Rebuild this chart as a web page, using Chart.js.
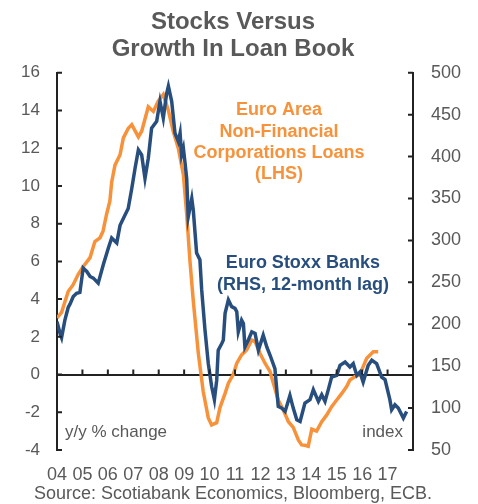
<!DOCTYPE html>
<html>
<head>
<meta charset="utf-8">
<script src="https://cdn.jsdelivr.net/npm/chart.js@4.4.1/dist/chart.umd.min.js"></script>
<style>
  html, body { margin: 0; padding: 0; background: #fff; }
  #wrap { width: 478px; height: 504px; position: relative; }
</style>
</head>
<body>
<div id="wrap"><canvas id="chart"></canvas></div>
<script>
/* ── Data ────────────────────────────────────────────────────── */
// Euro area NFC loans, y/y % (LHS)
const LOAN_DATES = [
  2004.00, 2004.18, 2004.44, 2004.63, 2004.83, 2005.02, 2005.30, 2005.49, 2005.69, 2005.81,
  2005.95, 2006.08, 2006.15, 2006.28, 2006.48, 2006.61, 2006.80, 2006.94, 2007.20, 2007.33,
  2007.59, 2007.79, 2007.98, 2008.18, 2008.38, 2008.57, 2008.77, 2008.97, 2009.10, 2009.23,
  2009.36, 2009.56, 2009.75, 2009.95, 2010.08, 2010.28, 2010.41, 2010.61, 2010.74, 2010.93,
  2011.07, 2011.26, 2011.46, 2011.66, 2011.79, 2011.98, 2012.18, 2012.38, 2012.51, 2012.70,
  2012.90, 2013.10, 2013.29, 2013.49, 2013.62, 2013.75, 2013.88, 2014.02, 2014.21, 2014.41,
  2014.61, 2014.80, 2015.00, 2015.20, 2015.39, 2015.52, 2015.72, 2015.91, 2016.04, 2016.18,
  2016.31, 2016.44, 2016.63
];
const LOAN_GROWTH = [
  3.0, 3.3, 4.4, 4.75, 5.3, 5.7, 6.2, 7.05, 7.25, 7.6,
  8.5, 9.2, 10.2, 11.1, 11.65, 12.55, 13.05, 13.25, 12.6, 12.9,
  14.2, 13.95, 14.5, 14.85, 14.0, 12.9, 12.0, 10.6, 8.5, 6.0,
  3.9, 1.1, -0.9, -2.3, -2.67, -2.55, -1.75, -1.0, -0.46, 0.0,
  0.6, 1.04, 1.3, 1.83, 1.75, 1.13, 0.6, 0.15, -0.46, -1.35,
  -1.88, -2.5, -2.8, -3.47, -3.73, -3.75, -3.8, -2.9, -3.0, -2.5,
  -2.14, -1.7, -1.35, -1.0, -0.64, -0.29, -0.11, 0.0, 0.42, 0.86,
  1.04, 1.21, 1.21
];

// Euro Stoxx Banks index, 12-month lag (RHS)
const BANK_DATES = [
  2004.00, 2004.12, 2004.18, 2004.31, 2004.44, 2004.51, 2004.64, 2004.77, 2004.90, 2005.03,
  2005.17, 2005.30, 2005.43, 2005.62, 2005.82, 2006.02, 2006.15, 2006.35, 2006.48, 2006.67,
  2006.80, 2006.94, 2007.07, 2007.20, 2007.33, 2007.46, 2007.59, 2007.72, 2007.92, 2008.05,
  2008.18, 2008.31, 2008.38, 2008.51, 2008.64, 2008.77, 2008.84, 2008.90, 2008.97, 2009.03,
  2009.10, 2009.16, 2009.30, 2009.36, 2009.49, 2009.62, 2009.69, 2009.82, 2009.95, 2010.08,
  2010.19, 2010.28, 2010.34, 2010.48, 2010.54, 2010.61, 2010.74, 2010.87, 2011.00, 2011.07,
  2011.13, 2011.26, 2011.33, 2011.39, 2011.52, 2011.66, 2011.79, 2011.92, 2012.11, 2012.25,
  2012.38, 2012.57, 2012.70, 2012.84, 2012.97, 2013.16, 2013.29, 2013.43, 2013.56, 2013.75,
  2013.95, 2014.08, 2014.28, 2014.41, 2014.54, 2014.67, 2014.80, 2015.00, 2015.13, 2015.33,
  2015.52, 2015.65, 2015.79, 2015.91, 2016.04, 2016.24, 2016.38, 2016.57, 2016.77, 2016.90,
  2017.09, 2017.16, 2017.29, 2017.42, 2017.62, 2017.75
];
const BANK_INDEX = [
  203, 189, 184, 205, 220, 224, 233, 237, 238, 267,
  263, 257, 255, 249, 271, 291, 303, 297, 318, 330,
  338, 362, 386, 408, 402, 374, 398, 434, 442, 466,
  446, 475, 484, 466, 428, 418, 428, 402, 410, 394,
  374, 328, 350, 336, 285, 277, 241, 193, 153, 126,
  110, 133, 169, 177, 181, 213, 229, 221, 219, 215,
  191, 205, 201, 173, 181, 191, 189, 169, 187, 173,
  163, 147, 102, 100, 96, 115, 100, 86, 84, 106,
  110, 122, 108, 116, 108, 122, 137, 139, 151, 155,
  149, 153, 139, 143, 131, 151, 157, 153, 137, 134,
  110, 98, 104, 100, 88, 96
];

const YEAR_LABELS = ["04", "05", "06", "07", "08", "09", "10", "11", "12", "13", "14", "15", "16", "17"];
const FIRST_YEAR = 2004;

/* ── Styling ──────────────────────────────────────────────────── */
const ORANGE = "#f7923a";
const NAVY = "#284e7e";
const GREY = "#595959";
const AXIS = "#222222";
const FONT = "'Liberation Sans', Arial, sans-serif";

const toPoints = (xs, ys) => xs.map((x, i) => ({ x, y: ys[i] }));

/* inward tick marks on both value axes + year ticks on the zero line */
const innerTicks = {
  id: "innerTicks",
  afterDraw(chart) {
    const { ctx, chartArea, scales } = chart;
    const zeroY = scales.y.getPixelForValue(0);
    ctx.save();
    ctx.strokeStyle = AXIS;
    ctx.lineWidth = 2;
    ctx.beginPath();
    scales.y.ticks.forEach(t => {
      const py = scales.y.getPixelForValue(t.value);
      ctx.moveTo(chartArea.left, py);
      ctx.lineTo(chartArea.left + 5, py);
    });
    scales.y1.ticks.forEach(t => {
      const py = scales.y1.getPixelForValue(t.value);
      ctx.moveTo(chartArea.right, py);
      ctx.lineTo(chartArea.right - 5, py);
    });
    scales.x.ticks.forEach(t => {
      const px = scales.x.getPixelForValue(t.value);
      ctx.moveTo(px, zeroY);
      ctx.lineTo(px, zeroY - 5);
    });
    ctx.stroke();
    ctx.restore();
  }
};

/* series labels and axis unit notes */
const notes = {
  id: "notes",
  afterDatasetsDraw(chart) {
    const { ctx, chartArea, scales } = chart;
    ctx.save();
    ctx.textAlign = "center";
    ctx.textBaseline = "middle";
    ctx.font = `bold 18px ${FONT}`;

    ctx.fillStyle = ORANGE;
    const ox = scales.x.getPixelForValue(2012.73);
    ["Euro Area", "Non-Financial", "Corporations Loans", "(LHS)"].forEach((s, i) => {
      ctx.fillText(s, ox, scales.y.getPixelForValue(14.0) + i * 21.3);
    });

    ctx.fillStyle = NAVY;
    const bx = scales.x.getPixelForValue(2013.67);
    ["Euro Stoxx Banks", "(RHS, 12-month lag)"].forEach((s, i) => {
      ctx.fillText(s, bx, scales.y.getPixelForValue(5.9) + i * 21.6);
    });

    ctx.font = `17px ${FONT}`;
    ctx.fillStyle = GREY;
    ctx.textAlign = "left";
    ctx.fillText("y/y % change", chartArea.left + 8, chartArea.bottom - 18);
    ctx.textAlign = "right";
    ctx.fillText("index", chartArea.right - 10, chartArea.bottom - 18);
    ctx.restore();
  }
};

new Chart(document.getElementById("chart"), {
  type: "line",
  data: {
    datasets: [
      {
        label: "Euro Stoxx Banks (RHS, 12-month lag)",
        data: toPoints(BANK_DATES, BANK_INDEX),
        yAxisID: "y1",
        borderColor: NAVY,
        borderWidth: 3.5,
        pointRadius: 0,
        tension: 0,
      },
      {
        label: "Euro Area Non-Financial Corporations Loans (LHS)",
        data: toPoints(LOAN_DATES, LOAN_GROWTH),
        yAxisID: "y",
        borderColor: ORANGE,
        borderWidth: 3.5,
        pointRadius: 0,
        tension: 0,
      },
    ],
  },
  options: {
    responsive: true,
    maintainAspectRatio: false,
    animation: false,
    layout: { padding: { left: 0, right: 12, top: 0, bottom: 0 } },
    plugins: {
      legend: { display: false },
      tooltip: { enabled: false },
      title: {
        display: true,
        text: ["Stocks Versus", "Growth In Loan Book"],
        color: GREY,
        font: { family: FONT, size: 24, weight: "bold", lineHeight: 1.12 },
        padding: { top: 9, bottom: 10 },
      },
      subtitle: {
        display: true,
        position: "bottom",
        text: "Source: Scotiabank Economics, Bloomberg, ECB.",
        color: GREY,
        font: { family: FONT, size: 18, lineHeight: 1.1 },
        padding: 0,
      },
    },
    scales: {
      x: {
        type: "linear",
        min: FIRST_YEAR,
        max: FIRST_YEAR + YEAR_LABELS.length,
        grid: { display: false, drawTicks: false },
        border: { display: false },
        ticks: {
          stepSize: 1,
          autoSkip: false,
          maxRotation: 0,
          padding: 14,
          color: GREY,
          font: { family: FONT, size: 18 },
          callback: v => YEAR_LABELS[v - FIRST_YEAR] || "",
        },
        afterFit: s => { s.height = 34.2; },
      },
      y: {
        position: "left",
        min: -4,
        max: 16,
        grid: {
          drawTicks: false,
          lineWidth: 2,
          color: c => (c.tick && c.tick.value === 0 ? AXIS : "rgba(0,0,0,0)"),
        },
        border: { display: true, color: AXIS, width: 2 },
        ticks: { stepSize: 2, padding: 17, color: GREY, font: { family: FONT, size: 17 } },
        afterFit: s => { s.width = 57; },
      },
      y1: {
        position: "right",
        min: 50,
        max: 500,
        grid: { display: false, drawTicks: false },
        border: { display: true, color: AXIS, width: 2 },
        ticks: { stepSize: 50, padding: 18, color: GREY, font: { family: FONT, size: 18 } },
        afterFit: s => { s.width = 53; },
      },
    },
  },
  plugins: [innerTicks, notes],
});
</script>
</body>
</html>
